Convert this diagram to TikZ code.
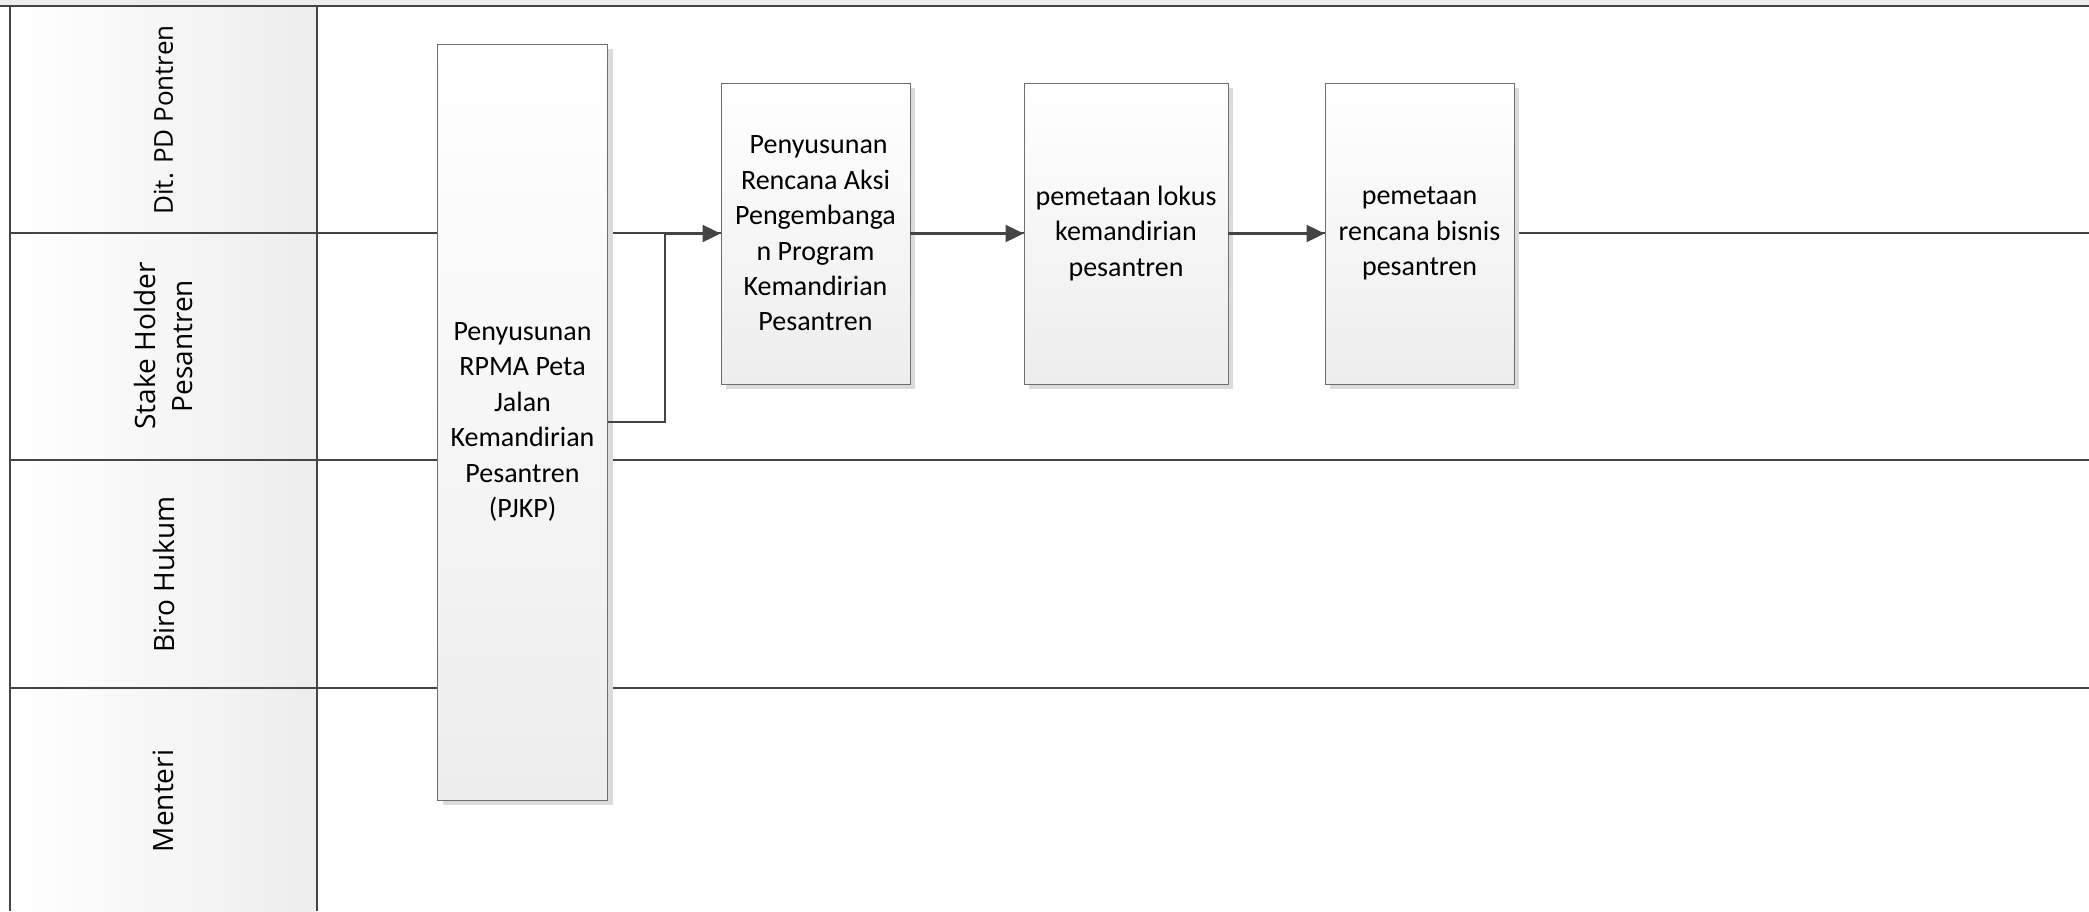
\documentclass[tikz,border=0pt]{standalone}
\usepackage{fontspec}
\setmainfont{Carlito}
\newfontfamily\lanefont{Open Sans}
\usetikzlibrary{arrows.meta,shadows}
\definecolor{lineC}{HTML}{444444}
\definecolor{boxB}{HTML}{6E6E6E}
\definecolor{grayF}{HTML}{EDEDED}
\tikzset{
  lane/.style={draw=lineC,line width=1.6pt},
  hdr/.style={left color=white,right color=grayF,draw=none},
  lanelabel/.style={rotate=90,font=\lanefont\fontsize{28}{37}\selectfont,align=center,inner sep=0pt},
  procbox/.style={draw=boxB,line width=0.9pt,top color=white,bottom color=grayF,
    align=center,inner sep=0pt,font=\fontsize{28}{35.4}\selectfont,
    drop shadow={shadow xshift=5pt,shadow yshift=-5pt,fill=black!14,opacity=1}},
  conn/.style={draw=lineC,line width=2.2pt},
  arr/.style={conn,-{Triangle[length=18pt,width=17pt]}}
}
\begin{document}
\begin{tikzpicture}[x=1pt,y=-1pt]
\useasboundingbox (0,0) rectangle (2089,911);
\fill[white] (0,0) rectangle (2089,911);
% top strip
\fill[grayF] (0,0) rectangle (2089,6);
% header column
\fill[hdr] (10,6) rectangle (317,911);
% lane lines
\draw[lane] (0,6) -- (2089,6);
\draw[lane] (10,233) -- (2089,233);
\draw[lane] (10,460) -- (2089,460);
\draw[lane] (10,688) -- (2089,688);
\draw[lane] (10,6) -- (10,911);
\draw[lane] (317,6) -- (317,911);
% lane labels
\node[lanelabel,font=\lanefont\fontsize{26}{37}\selectfont] (l1) at (163.5,120) {Dit.\hspace{0.35em}PD Pontren};
\node[lanelabel] (l2) at (163.5,346) {Stake Holder\\Pesantren};
\node[lanelabel] (l3) at (163.5,574.5) {Biro Hukum};
\node[lanelabel] (l4) at (163.5,801) {Menteri};
% boxes
\node[procbox,minimum width=170pt,minimum height=756pt] (b1) at (522.5,422)
  {Penyusunan\\RPMA Peta\\Jalan\\Kemandirian\\Pesantren\\(PJKP)};
\node[procbox,minimum width=189pt,minimum height=301pt] (b2) at (815.5,233.5)
  {\ Penyusunan\\Rencana Aksi\\Pengembanga\\n Program\\Kemandirian\\Pesantren};
\node[procbox,minimum width=204pt,minimum height=301pt] (b3) at (1126,233.5)
  {pemetaan lokus\\kemandirian\\pesantren};
\node[procbox,minimum width=189pt,minimum height=301pt] (b4) at (1419.5,233.5)
  {pemetaan\\rencana bisnis\\pesantren};
% connectors
\draw[arr] (b1.east) -- ++(57,0) |- (b2.west);
\draw[arr] (b2.east) -- (b3.west);
\draw[arr] (b3.east) -- (b4.west);
\end{tikzpicture}
\end{document}
